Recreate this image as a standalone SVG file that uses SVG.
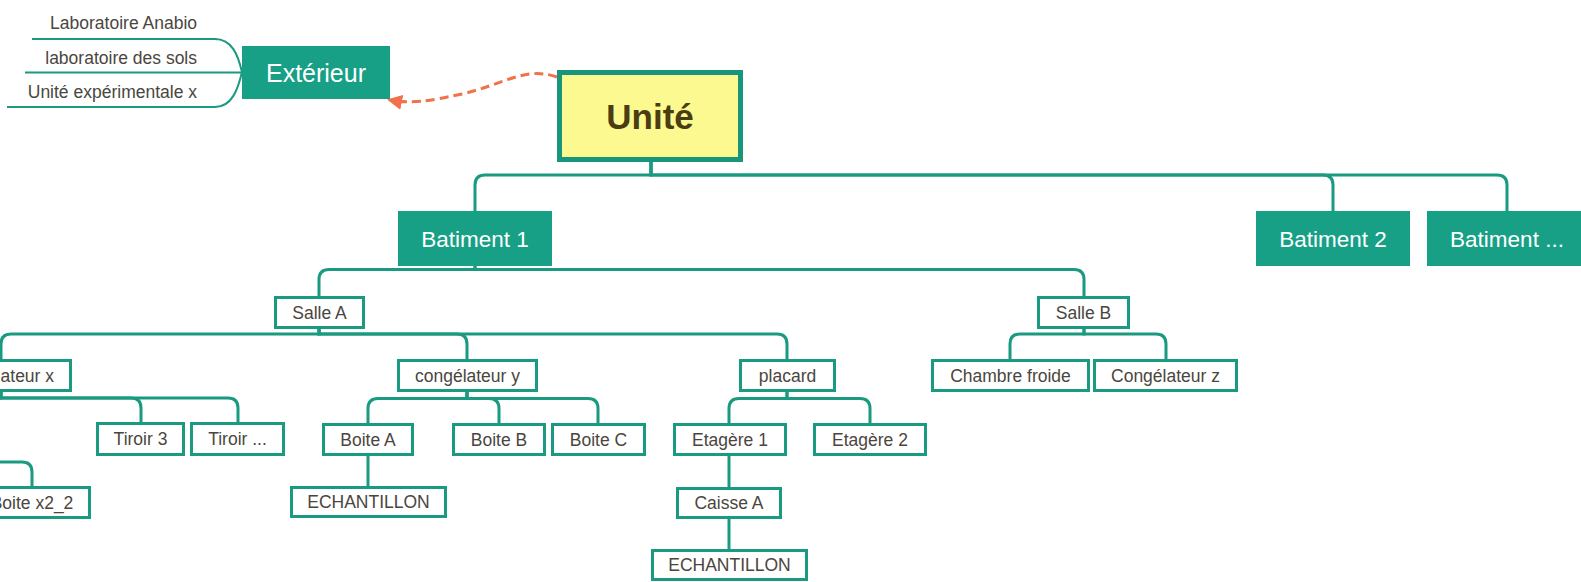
<svg xmlns="http://www.w3.org/2000/svg" width="1581" height="582" viewBox="0 0 1581 582">
<defs>
<style>
.bg{fill:#ffffff}
.box{fill:#ffffff;stroke:#1a9a80;stroke-width:3}
.dark{fill:#17a086}
.root{fill:#fbf98f;stroke:#17967b;stroke-width:5}
.t{font-family:"Liberation Sans",Arial,sans-serif;font-size:17.5px;fill:#4a463e;text-anchor:middle}
.tl{font-family:"Liberation Sans",Arial,sans-serif;font-size:17.5px;fill:#4a463e;text-anchor:end}
.tw{font-family:"Liberation Sans",Arial,sans-serif;font-size:22.5px;fill:#ffffff;text-anchor:middle}
.tx{font-family:"Liberation Sans",Arial,sans-serif;font-size:25px;fill:#ffffff;text-anchor:middle}
.tr{font-family:"Liberation Sans",Arial,sans-serif;font-size:35px;font-weight:bold;fill:#4a3d12;text-anchor:middle}
.c{fill:none;stroke:#1a9a80;stroke-width:3}
.c2{fill:none;stroke:#1a9a80;stroke-width:2}
.rel{fill:none;stroke:#f0714a;stroke-width:3;stroke-dasharray:9 5}
</style>
<marker id="arr" viewBox="0 0 10 10" refX="8" refY="5" markerWidth="5" markerHeight="5" orient="auto-start-reverse" markerUnits="strokeWidth">
<path d="M0,0 L10,5 L0,10 z" fill="#f0714a"/>
</marker>
</defs>
<rect class="bg" x="0" y="0" width="1581" height="582"/>

<g id="connectors">
<!-- Exterieur children -->
<path class="c2" d="M32,39 H215 C232,39 238,55 242,72"/>
<path class="c2" d="M25,72.5 H242"/>
<path class="c2" d="M7,107 H215 C232,107 238,89 242,72"/>
<!-- Unite -> Batiments -->
<path class="c" d="M651,162 V175 H485 Q475,175 475,185 V211"/>
<path class="c" d="M651,162 V175 H1323 Q1333,175 1333,185 V211"/>
<path class="c" d="M651,162 V175 H1497 Q1507,175 1507,185 V211"/>
<!-- Batiment 1 -> Salles -->
<path class="c" d="M475,266 V269.5 H329 Q319,269.5 319,279.5 V296"/>
<path class="c" d="M475,266 V269.5 H1074 Q1084,269.5 1084,279.5 V296"/>
<!-- Salle A -> congelateurs / placard -->
<path class="c" d="M319,329 V334 H11 Q1,334 1,344 V359"/>
<path class="c" d="M319,329 V334 H457 Q467,334 467,344 V359"/>
<path class="c" d="M319,329 V334 H777 Q787,334 787,344 V359"/>
<!-- Salle B -->
<path class="c" d="M1084,329 V334 H1020 Q1010,334 1010,344 V359"/>
<path class="c" d="M1084,329 V334 H1156 Q1166,334 1166,344 V359"/>
<!-- congelateur x -> tiroirs -->
<path class="c" d="M1,392 V398 H-60"/>
<path class="c" d="M1,392 V398 H131 Q141,398 141,408 V422"/>
<path class="c" d="M1,392 V398 H228 Q238,398 238,408 V422"/>
<!-- Tiroir 2 (offscreen) -> Boite x2_2 -->
<path class="c" d="M-60,462 H22 Q32,462 32,472 V486"/>
<!-- congelateur y -> boites -->
<path class="c" d="M467,392 V398.5 H378 Q368,398.5 368,408.5 V423"/>
<path class="c" d="M467,392 V398.5 H489 Q499,398.5 499,408.5 V423"/>
<path class="c" d="M467,392 V398.5 H588 Q598,398.5 598,408.5 V423"/>
<!-- placard -> etageres -->
<path class="c" d="M787,392 V398.5 H739 Q729,398.5 729,408.5 V423"/>
<path class="c" d="M787,392 V398.5 H860 Q870,398.5 870,408.5 V423"/>
<!-- Boite A -> ECHANTILLON -->
<path class="c" d="M368,456 V486"/>
<!-- Etagere 1 -> Caisse A -> ECHANTILLON -->
<path class="c" d="M729,456 V487"/>
<path class="c" d="M729,518 V549"/>
<!-- relation Unite -> Exterieur -->
<path class="rel" d="M557,77 C525,66 505,84 462,94 C430,101 410,104 390,100" marker-end="url(#arr)"/>
</g>

<g id="lab-anabio"><text class="tl" x="197" y="29">Laboratoire Anabio</text></g>
<g id="lab-sols"><text class="tl" x="197" y="64">laboratoire des sols</text></g>
<g id="unite-exp"><text class="tl" x="197" y="98">Unité expérimentale x</text></g>

<g id="exterieur"><rect class="dark" x="242" y="46" width="148" height="53"/><text class="tx" x="316" y="82">Extérieur</text></g>

<g id="unite"><rect class="root" x="559.5" y="72.5" width="181" height="87"/><text class="tr" x="650" y="129">Unité</text></g>

<g id="batiment1"><rect class="dark" x="398" y="211" width="154" height="55"/><text class="tw" x="475" y="246.5">Batiment 1</text></g>
<g id="batiment2"><rect class="dark" x="1256" y="211" width="154" height="55"/><text class="tw" x="1333" y="246.5">Batiment 2</text></g>
<g id="batiment3"><rect class="dark" x="1427" y="211" width="160" height="55"/><text class="tw" x="1507" y="246.5">Batiment ...</text></g>

<g id="salleA"><rect class="box" x="275.5" y="297.5" width="88" height="30"/><text class="t" x="319.5" y="318.5">Salle A</text></g>
<g id="salleB"><rect class="box" x="1038.5" y="297.5" width="90" height="30"/><text class="t" x="1083.5" y="318.5">Salle B</text></g>

<g id="congelx"><rect class="box" x="-67.5" y="360.5" width="138" height="30"/><text class="t" x="1.5" y="381.5">congélateur x</text></g>
<g id="congely"><rect class="box" x="398.5" y="360.5" width="138" height="30"/><text class="t" x="467.5" y="381.5">congélateur y</text></g>
<g id="placard"><rect class="box" x="740.5" y="360.5" width="94" height="30"/><text class="t" x="787.5" y="381.5">placard</text></g>
<g id="chambre"><rect class="box" x="932.5" y="360.5" width="156" height="30"/><text class="t" x="1010.5" y="381.5">Chambre froide</text></g>
<g id="congelz"><rect class="box" x="1094.5" y="360.5" width="142" height="30"/><text class="t" x="1165.5" y="381.5">Congélateur z</text></g>

<g id="tiroir3"><rect class="box" x="97.5" y="423.5" width="86" height="31"/><text class="t" x="140.5" y="445">Tiroir 3</text></g>
<g id="tiroirN"><rect class="box" x="191.5" y="423.5" width="92" height="31"/><text class="t" x="237.5" y="445">Tiroir ...</text></g>
<g id="boiteA"><rect class="box" x="323.5" y="424.5" width="89" height="30"/><text class="t" x="368" y="445.5">Boite A</text></g>
<g id="boiteB"><rect class="box" x="453.5" y="424.5" width="91" height="30"/><text class="t" x="499" y="445.5">Boite B</text></g>
<g id="boiteC"><rect class="box" x="552.5" y="424.5" width="92" height="30"/><text class="t" x="598.5" y="445.5">Boite C</text></g>
<g id="etagere1"><rect class="box" x="674.5" y="424.5" width="111" height="30"/><text class="t" x="730" y="445.5">Etagère 1</text></g>
<g id="etagere2"><rect class="box" x="814.5" y="424.5" width="111" height="30"/><text class="t" x="870" y="445.5">Etagère 2</text></g>

<g id="boitex22"><rect class="box" x="-25.5" y="487.5" width="115" height="30"/><text class="t" x="32" y="508.5">Boite x2_2</text></g>
<g id="echantillon1"><rect class="box" x="291.5" y="487.5" width="154" height="29"/><text class="t" x="368.5" y="508">ECHANTILLON</text></g>
<g id="caisseA"><rect class="box" x="677.5" y="488.5" width="103" height="29"/><text class="t" x="729" y="509">Caisse A</text></g>
<g id="echantillon2"><rect class="box" x="652.5" y="550.5" width="154" height="29"/><text class="t" x="729.5" y="571">ECHANTILLON</text></g>
</svg>
